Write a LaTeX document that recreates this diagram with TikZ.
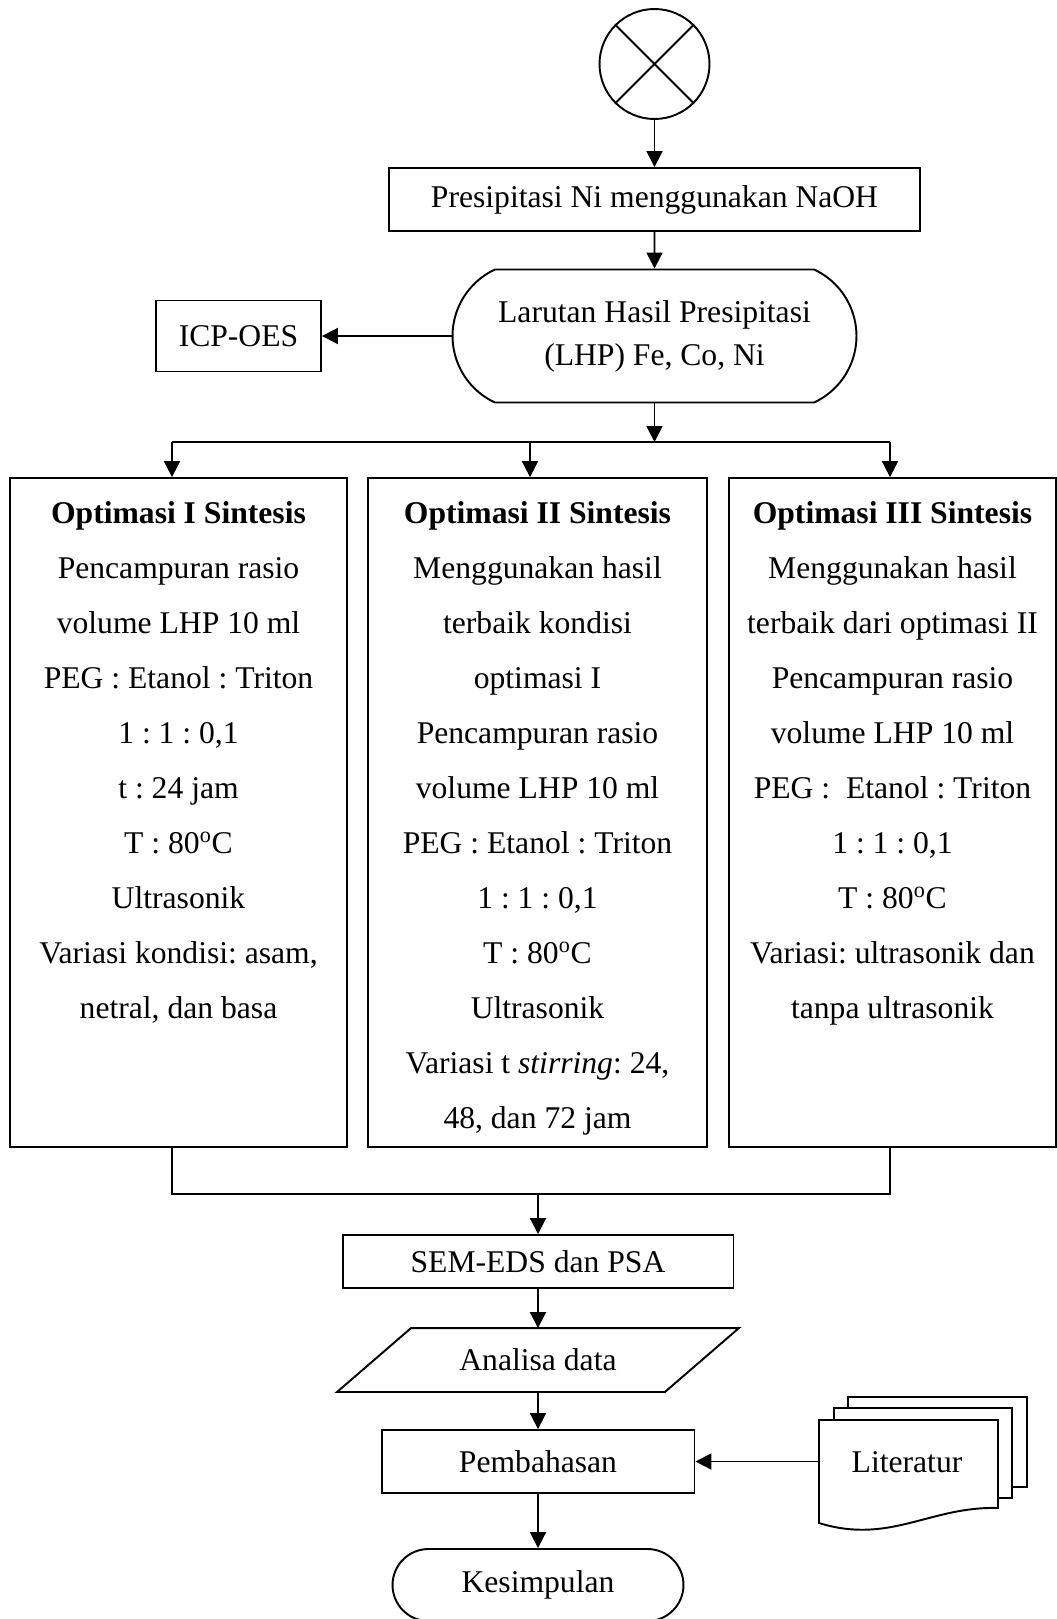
\documentclass[tikz,border=0pt]{standalone}
\usepackage{fontspec}
\setmainfont{Liberation Serif}
\frenchspacing
\usetikzlibrary{shapes.misc, arrows.meta, positioning}

\begin{document}
\begin{tikzpicture}[x=0.02cm, y=-0.02cm, line width=1.1pt,
  font=\fontsize{18}{31.3}\selectfont,
  box/.style={draw, rectangle, inner sep=0pt},
  term/.style={draw, rounded rectangle, inner sep=0pt},
  opttext/.style={anchor=north, align=center, inner sep=0pt},
  arr/.style={-{Triangle[length=0.32cm,width=0.32cm]}}]

\useasboundingbox (0,0) rectangle (1057,1619);

\node[draw, circle, minimum size=2.2cm, inner sep=0pt] (start) at (654.5,64) {};
\draw (start.north west) -- (start.south east);
\draw (start.north east) -- (start.south west);

\node[box, minimum width=10.64cm, minimum height=1.26cm] (presip) at (654.5,199.5) {Presipitasi Ni menggunakan NaOH};
\node[term, rounded rectangle arc length=130, minimum width=8.08cm, minimum height=2.66cm,
  align=center, font=\fontsize{18}{24.4}\selectfont] (lhp) at (654.5,336) {Larutan Hasil Presipitasi\\(LHP) Fe, Co, Ni};
\node[box, minimum width=3.3cm, minimum height=1.42cm] (icp) at (238.5,336) {ICP-OES};

\node[box, minimum width=6.74cm, minimum height=13.38cm] (optA) at (178.5,812.5) {};
\node[box, minimum width=6.78cm, minimum height=13.38cm] (optB) at (537.5,812.5) {};
\node[box, minimum width=6.54cm, minimum height=13.38cm] (optC) at (892.5,812.5) {};

\node[opttext] (txtA) at (178.5,501) {\textbf{Optimasi I Sintesis}\\Pencampuran rasio\\volume LHP 10 ml\\PEG : Etanol : Triton\\1 : 1 : 0,1\\t : 24 jam\\T : 80\textsuperscript{o}C\\Ultrasonik\\Variasi kondisi: asam,\\netral, dan basa};
\node[opttext] (txtB) at (537.5,501) {\textbf{Optimasi II Sintesis}\\Menggunakan hasil\\terbaik kondisi\\optimasi I\\Pencampuran rasio\\volume LHP 10 ml\\PEG : Etanol : Triton\\1 : 1 : 0,1\\T : 80\textsuperscript{o}C\\Ultrasonik\\Variasi t \textit{stirring}: 24,\\48, dan 72 jam};
\node[opttext] (txtC) at (892.5,501) {\textbf{Optimasi III Sintesis}\\Menggunakan hasil\\terbaik dari optimasi II\\Pencampuran rasio\\volume LHP 10 ml\\PEG :\ \ Etanol : Triton\\1 : 1 : 0,1\\T : 80\textsuperscript{o}C\\Variasi: ultrasonik dan\\tanpa ultrasonik};

\node[box, minimum width=7.82cm, minimum height=1.06cm] (sem) at (538,1261.5) {SEM-EDS dan PSA};
\node[inner sep=0pt, minimum width=6.52cm, minimum height=1.24cm] (ana) at (538,1360) {Analisa data};
\draw ([xshift=0.74cm]ana.north west) -- ([xshift=0.74cm]ana.north east)
  -- ([xshift=-0.74cm]ana.south east) -- ([xshift=-0.74cm]ana.south west) -- cycle;
\node[box, minimum width=6.26cm, minimum height=1.26cm] (bahas) at (538,1461.5) {Pembahasan};
\node[term, minimum width=5.82cm, minimum height=1.44cm] (kes) at (538,1585) {Kesimpulan};

\draw[fill=white] (848,1397) rectangle (1027,1487);
\draw[fill=white] (834,1408) rectangle (1012,1498);
\draw[fill=white] (819,1420) -- (998,1420) -- (998,1508) .. controls (930,1506) and (890,1545) .. (819,1523) -- cycle;
\node (lit) at (907,1462) {Literatur};
\coordinate (litin) at (819,1461.5);

\coordinate (splitA) at (172,442);
\coordinate (splitB) at (530,442);
\coordinate (splitC) at (890,442);
\coordinate (joinA) at (172,1194);
\coordinate (joinC) at (890,1194);

\draw[arr] (start) -- (presip);
\draw[arr] (presip) -- (lhp);
\draw[arr] (lhp) -- (icp);
\draw[arr] (lhp.south) -- (lhp.south |- splitA);
\draw (splitA) -- (splitC);
\foreach \n/\o in {A/optA, B/optB, C/optC}
  \draw[arr] (split\n) -- (split\n |- \o.north);
\draw (optA.south -| joinA) -- (joinA) -- (joinC) -- (optC.south -| joinC);
\draw[arr] (joinA -| sem) -- (sem.north);
\draw[arr] (sem) -- (ana);
\draw[arr] (ana) -- (bahas);
\draw[arr] (litin) -- (bahas.east);
\draw[arr] (bahas) -- (kes);

\end{tikzpicture}
\end{document}
